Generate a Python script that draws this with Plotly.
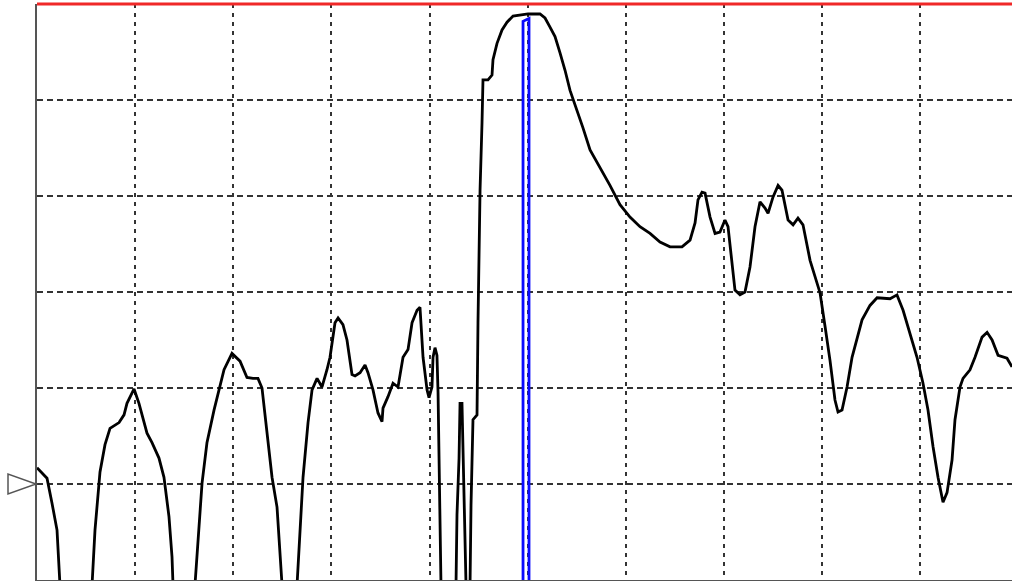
import plotly.graph_objects as go

# Trace: frequency in grid divisions, level in dB (top = 0 dB, 10 dB/div)
freq_div = [
    0.000, 0.102, 0.153, 0.204, 0.234,
    0.561, 0.591, 0.642, 0.693, 0.744, 0.836, 0.887, 0.917, 0.989, 1.039, 1.121, 1.172, 1.243, 1.294, 1.345, 1.376, 1.386,
    1.610, 1.651, 1.682, 1.732, 1.804, 1.906, 1.987, 2.069, 2.140, 2.201, 2.252, 2.293, 2.344, 2.395, 2.446, 2.497,
    2.650, 2.680, 2.711, 2.762, 2.803, 2.854, 2.904, 2.955, 2.986, 3.037, 3.068, 3.118, 3.159, 3.210, 3.241, 3.292,
    3.343, 3.373, 3.424, 3.475, 3.516, 3.526, 3.577, 3.628, 3.679, 3.730, 3.781, 3.822, 3.873, 3.903, 3.934, 3.975,
    3.995, 4.025, 4.036, 4.056, 4.076, 4.087, 4.107, 4.117,
    4.270, 4.280, 4.301, 4.311, 4.331, 4.341, 4.362, 4.372,
    4.413, 4.423, 4.443, 4.484, 4.494, 4.504, 4.515, 4.535, 4.545, 4.596, 4.637, 4.647, 4.688, 4.739, 4.790, 4.851,
    4.922, 5.004, 5.126, 5.177, 5.228, 5.279, 5.330, 5.381, 5.432, 5.503, 5.564, 5.636, 5.738, 5.839, 5.941, 6.043,
    6.145, 6.247, 6.349, 6.451, 6.573, 6.655, 6.706, 6.736, 6.777, 6.808, 6.859, 6.910, 6.960, 7.011, 7.042, 7.083,
    7.113, 7.164, 7.215, 7.266, 7.317, 7.368, 7.419, 7.450, 7.501, 7.552, 7.592, 7.654, 7.705, 7.755, 7.806, 7.878,
    7.980, 8.031, 8.081, 8.132, 8.163, 8.204, 8.255, 8.306, 8.357, 8.408, 8.489, 8.561, 8.693, 8.764, 8.826, 8.897,
    8.968, 9.029, 9.080, 9.131, 9.182, 9.233, 9.274, 9.325, 9.355, 9.406, 9.437, 9.508, 9.559, 9.631, 9.682, 9.733,
    9.794, 9.885, 9.936,
]
level_db = [
    -48.3, -49.4, -52.0, -54.8, -60.5,
    -60.5, -54.8, -48.75, -45.9, -44.2, -43.6, -42.8, -41.6, -40.1, -41.6, -44.7, -45.7, -47.3, -49.3, -53.4, -57.6, -60.5,
    -60.5, -54.8, -49.9, -45.7, -42.3, -38.1, -36.4, -37.2, -38.9, -39.0, -39.0, -40.0, -44.4, -49.3, -52.4, -60.5,
    -60.5, -54.5, -49.3, -43.6, -40.2, -39.0, -39.9, -38.1, -36.8, -33.2, -32.7, -33.4, -35.0, -38.6, -38.75, -38.4,
    -37.6, -38.4, -40.2, -42.6, -43.5, -42.1, -40.9, -39.5, -39.9, -36.8, -36.0, -33.2, -31.9, -31.6, -36.8, -40.2,
    -41.0, -39.9, -36.8, -35.8, -36.6, -40.5, -56.6, -60.5,
    -60.5, -53.2, -47.3, -41.6, -41.6, -46.1, -53.0, -60.5,
    -60.5, -52.2, -43.3, -42.8, -33.2, -26.5, -19.4, -12.4, -7.9, -7.9, -7.4, -5.8, -4.1, -2.7, -1.9, -1.25,
    -1.15, -1.04, -1.04, -1.46, -2.4, -3.4, -5.1, -6.9, -9.0, -11.0, -12.9, -15.2, -17.0, -18.9, -20.9, -22.2,
    -23.2, -23.9, -24.8, -25.3, -25.3, -24.6, -22.8, -20.4, -19.6, -19.7, -22.2, -23.9, -23.75, -22.5, -23.2, -26.7,
    -29.8, -30.3, -30.0, -27.4, -23.2, -20.6, -21.25, -21.8, -20.1, -18.9, -19.4, -22.5, -23.0, -22.3, -23.0, -26.7,
    -30.1, -33.6, -37.1, -41.25, -42.5, -42.3, -39.9, -36.8, -34.7, -32.9, -31.4, -30.6, -30.7, -30.3, -31.9, -34.3,
    -36.8, -39.5, -42.3, -46.1, -49.3, -51.9, -50.9, -47.5, -43.3, -39.9, -39.0, -38.1, -36.8, -34.7, -34.2, -35.0,
    -36.6, -36.9, -37.8,
]

# Marker (blue double line) and levels
marker_left = 4.953
marker_right = 5.014
marker_top = [-1.8, -1.5]
ref_level_db = 0.0
trigger_level_db = -50.0
floor_db = -60.0
span_div = 9.936

fig = go.Figure()

# blue marker
fig.add_trace(go.Scatter(
    x=[marker_left, marker_left, marker_right, marker_right],
    y=[floor_db - 2, marker_top[0], marker_top[1], floor_db - 2],
    mode="lines", line=dict(color="#0a0aff", width=2.8),
    hoverinfo="skip", showlegend=False,
))

# main trace
fig.add_trace(go.Scatter(
    x=freq_div, y=level_db, mode="lines",
    line=dict(color="black", width=2.8), showlegend=False,
))

# red reference line at top (paper refs so it is not clipped)
fig.add_shape(
    type="line", xref="paper", yref="paper", x0=0, x1=1,
    y0=(ref_level_db - floor_db) / (ref_level_db - floor_db),
    y1=(ref_level_db - floor_db) / (ref_level_db - floor_db),
    line=dict(color="#f02828", width=3), layer="above",
)

# left triangle marker at trigger level (paper refs so it is not clipped)
fig.add_shape(
    type="path", xref="paper", yref="paper", xsizemode="pixel", ysizemode="pixel",
    xanchor=0, yanchor=(trigger_level_db - floor_db) / (ref_level_db - floor_db),
    path="M -29,-10 L -29,10 L -1,0 Z",
    line=dict(color="#555555", width=1.5), fillcolor="white", layer="above",
)

fig.update_layout(
    width=1012, height=581,
    margin=dict(l=37, r=0, t=4, b=1),
    paper_bgcolor="white", plot_bgcolor="white",
    xaxis=dict(
        range=[0, span_div], dtick=1, tick0=0,
        showgrid=True, gridcolor="#333333", gridwidth=2, griddash="4px,5px",
        showline=True, linecolor="#555555", linewidth=3,
        showticklabels=False, ticks="", zeroline=False,
    ),
    yaxis=dict(
        range=[floor_db, ref_level_db], dtick=10, tick0=0,
        showgrid=True, gridcolor="#333333", gridwidth=2, griddash="6px,4px",
        showline=True, linecolor="#555555", linewidth=2,
        showticklabels=False, ticks="", zeroline=False,
    ),
)

fig.write_html(
    "out.html",
    config={"displayModeBar": False},
    post_script="document.body.style.margin='0';document.body.style.overflow='hidden';",
)
